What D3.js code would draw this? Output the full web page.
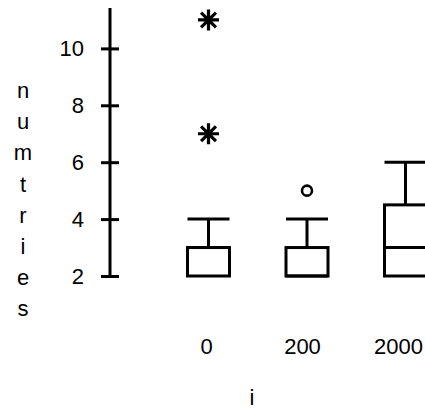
<!DOCTYPE html>
<html>
<head>
<meta charset="utf-8">
<script src="https://cdn.jsdelivr.net/npm/d3@7/dist/d3.min.js"></script>
<style>
  html, body { margin: 0; padding: 0; background: #fff; }
  svg { display: block; }
  text { font-family: "Liberation Sans", Arial, sans-serif; fill: #000; }
</style>
</head>
<body>
<svg id="chart" width="425" height="409"></svg>
<script>
// Groups along the x axis
const groups = ["0", "200", "2000"];
// Box summaries per group
const q1 = [2, 2, 2];
const medians = [3, 2, 3];
const q3 = [3, 3, 4.5];
const whiskerLow = [2, 2, 2];
const whiskerHigh = [4, 4, 6];
// Outliers: far (asterisk) and near (circle)
const farOutliers = [{ g: "0", v: 11 }, { g: "0", v: 7 }];
const nearOutliers = [{ g: "200", v: 5 }];
// Y tick values
const yTicks = [2, 4, 6, 8, 10];
const xTitle = "i";
const yTitle = "numtries";

const svg = d3.select("#chart");
const fontSize = 22;

const y = d3.scaleLinear().domain([2, 11.42]).range([276, 8]);
const x = d3.scalePoint().domain(groups).range([208.5, 405.5]);
const xLabel = d3.scalePoint().domain(groups).range([206.5, 398.5]);
const boxW = 42;
const sw = 3;

// Y axis
const axisX = 110;
const yAxis = d3.axisLeft(y).tickValues(yTicks).tickSizeInner(9).tickSizeOuter(0).tickPadding(17).tickFormat(d3.format("d"));
const gy = svg.append("g").attr("transform", `translate(${axisX},0)`).call(yAxis);
gy.select(".domain").attr("stroke", "#000").attr("stroke-width", sw).attr("d", `M0,${y.range()[1]}V${y(2)}`);
gy.selectAll(".tick line").attr("stroke", "#000").attr("stroke-width", sw).attr("x1", 9).attr("x2", -9);
gy.selectAll(".tick text").attr("font-size", fontSize).attr("font-family", "Liberation Sans, Arial, sans-serif").attr("x", -26);

// Y title, one letter per line
svg.append("text")
  .attr("font-size", fontSize)
  .attr("text-anchor", "middle")
  .selectAll("tspan")
  .data(yTitle.split(""))
  .join("tspan")
  .attr("x", 23)
  .attr("y", (d, i) => 98 + i * 31.2)
  .text(d => d);

// X labels
svg.append("g").selectAll("text")
  .data(groups)
  .join("text")
  .attr("x", d => xLabel(d))
  .attr("y", 353.5)
  .attr("text-anchor", "middle")
  .attr("font-size", fontSize)
  .text(d => d);

svg.append("text")
  .attr("x", 252)
  .attr("y", 405)
  .attr("text-anchor", "middle")
  .attr("font-size", fontSize)
  .text(xTitle);

// Boxes
const boxes = groups.map((g, i) => ({ g, q1: q1[i], med: medians[i], q3: q3[i], lo: whiskerLow[i], hi: whiskerHigh[i] }));
const bg = svg.append("g").attr("fill", "none").attr("stroke", "#000").attr("stroke-width", sw);
const bx = bg.selectAll("g").data(boxes).join("g");
bx.append("rect")
  .attr("x", d => x(d.g) - boxW / 2)
  .attr("y", d => y(d.q3))
  .attr("width", boxW)
  .attr("height", d => y(d.q1) - y(d.q3));
bx.append("line")
  .attr("x1", d => x(d.g) - boxW / 2).attr("x2", d => x(d.g) + boxW / 2)
  .attr("y1", d => y(d.med)).attr("y2", d => y(d.med));
bx.append("line")
  .attr("x1", d => x(d.g)).attr("x2", d => x(d.g))
  .attr("y1", d => y(d.q3)).attr("y2", d => y(d.hi));
bx.append("line")
  .attr("x1", d => x(d.g) - boxW / 2).attr("x2", d => x(d.g) + boxW / 2)
  .attr("y1", d => y(d.hi)).attr("y2", d => y(d.hi));
bx.filter(d => d.lo < d.q1).append("line")
  .attr("x1", d => x(d.g)).attr("x2", d => x(d.g))
  .attr("y1", d => y(d.q1)).attr("y2", d => y(d.lo));

// Far outliers as asterisks
const r = 10.5;
const starPath = [0, 45, 90, 135].map(a => {
  const t = a * Math.PI / 180;
  return `M${-r * Math.cos(t)},${-r * Math.sin(t)}L${r * Math.cos(t)},${r * Math.sin(t)}`;
}).join("");
svg.append("g").selectAll("path")
  .data(farOutliers)
  .join("path")
  .attr("transform", d => `translate(${x(d.g)},${y(d.v)})`)
  .attr("d", starPath)
  .attr("stroke", "#000")
  .attr("stroke-width", 3.2)
  .attr("fill", "none");

// Near outliers as open circles
svg.append("g").selectAll("circle")
  .data(nearOutliers)
  .join("circle")
  .attr("cx", d => x(d.g))
  .attr("cy", d => y(d.v))
  .attr("r", 5)
  .attr("fill", "none")
  .attr("stroke", "#000")
  .attr("stroke-width", 2.6);
</script>
</body>
</html>
